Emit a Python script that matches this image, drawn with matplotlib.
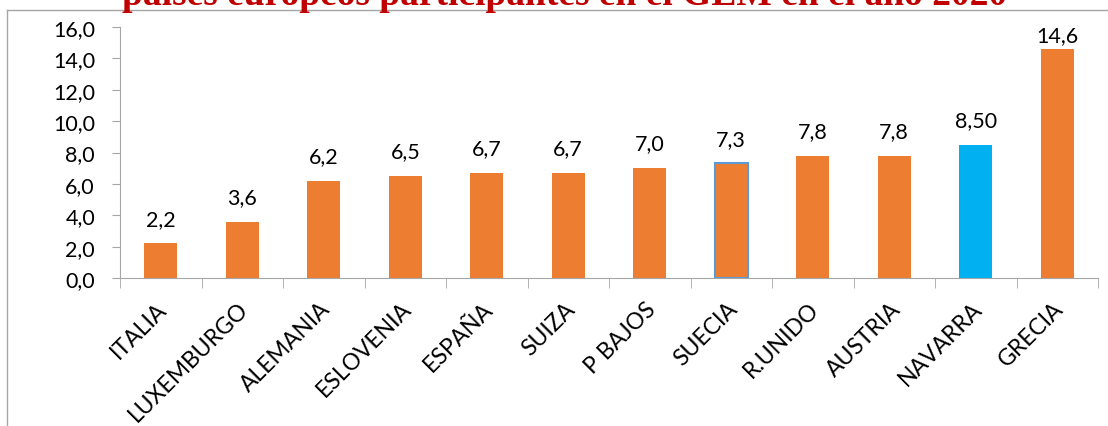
import matplotlib
matplotlib.use('Agg')
import matplotlib.pyplot as plt
from matplotlib.lines import Line2D
from matplotlib.transforms import ScaledTranslation

paises = ['ITALIA', 'LUXEMBURGO', 'ALEMANIA', 'ESLOVENIA', 'ESPAÑA', 'SUIZA',
          'P BAJOS', 'SUECIA', 'R.UNIDO', 'AUSTRIA', 'NAVARRA', 'GRECIA']
valores = [2.2, 3.6, 6.2, 6.5, 6.7, 6.7, 7.0, 7.3, 7.8, 7.8, 8.5, 14.6]
etiquetas = ['2,2', '3,6', '6,2', '6,5', '6,7', '6,7', '7,0', '7,3', '7,8', '7,8', '8,50', '14,6']
yticks = [0, 2, 4, 6, 8, 10, 12, 14, 16]
titulo = 'países europeos participantes en el GEM en el año 2020'

naranja = '#ED7D31'
azul = '#00B0F0'
gris = '#A6A6A6'

plt.rcParams['font.family'] = ['Lato', 'DejaVu Sans']

fig = plt.figure(figsize=(11.08, 4.27), dpi=100)
ax = fig.add_axes([120 / 1108, 1 - 279 / 427, 978 / 1108, 251 / 427])

x = list(range(len(paises)))
colores = [azul if p == 'NAVARRA' else naranja for p in paises]
bars = ax.bar(x, valores, width=0.41, color=colores)
i_suecia = paises.index('SUECIA')
bars[i_suecia].set_edgecolor('#5B9BD5')
bars[i_suecia].set_linewidth(1.5)

for i, (v, t) in enumerate(zip(valores, etiquetas)):
    off = 6 if v > 14 else 13.5
    ax.annotate(t, (i, v), xytext=(0, off), textcoords='offset points',
                ha='center', va='baseline', fontsize=15.5)

ax.set_xlim(-0.5, len(paises) - 0.5)
ax.set_ylim(0, 16)
ax.set_yticks(yticks)
ax.set_yticklabels([f'{t:.1f}'.replace('.', ',') for t in yticks], fontsize=15.5)
ax.tick_params(axis='y', length=6, color=gris, pad=12)

ax.set_xticks([i - 0.5 for i in range(len(paises) + 1)], minor=True)
ax.tick_params(axis='x', which='minor', length=7, color=gris)
ax.set_xticks(x)
ax.set_xticklabels(paises, rotation=45, ha='right', va='center',
                   rotation_mode='anchor', fontsize=16.5)
ax.tick_params(axis='x', which='major', length=0, pad=0)
desplaz = ScaledTranslation(3 / 100, -27 / 100, fig.dpi_scale_trans)
for lab in ax.get_xticklabels():
    lab.set_transform(lab.get_transform() + desplaz)

for s in ['top', 'right']:
    ax.spines[s].set_visible(False)
ax.spines['left'].set_color(gris)
ax.spines['bottom'].set_color(gris)

# marco del gráfico
fig.add_artist(Line2D([7 / 1108, 7 / 1108], [0, 1 - 11 / 427], color=gris, lw=1))
fig.add_artist(Line2D([7 / 1108, 1], [1 - 11 / 427, 1 - 11 / 427], color=gris, lw=1))

fig.text(565 / 1108, 1 - 5 / 427, titulo, ha='center', va='baseline',
         fontsize=27, fontweight='bold', color='#C00000', family='Liberation Serif')

fig.savefig('out.png', dpi=100)
